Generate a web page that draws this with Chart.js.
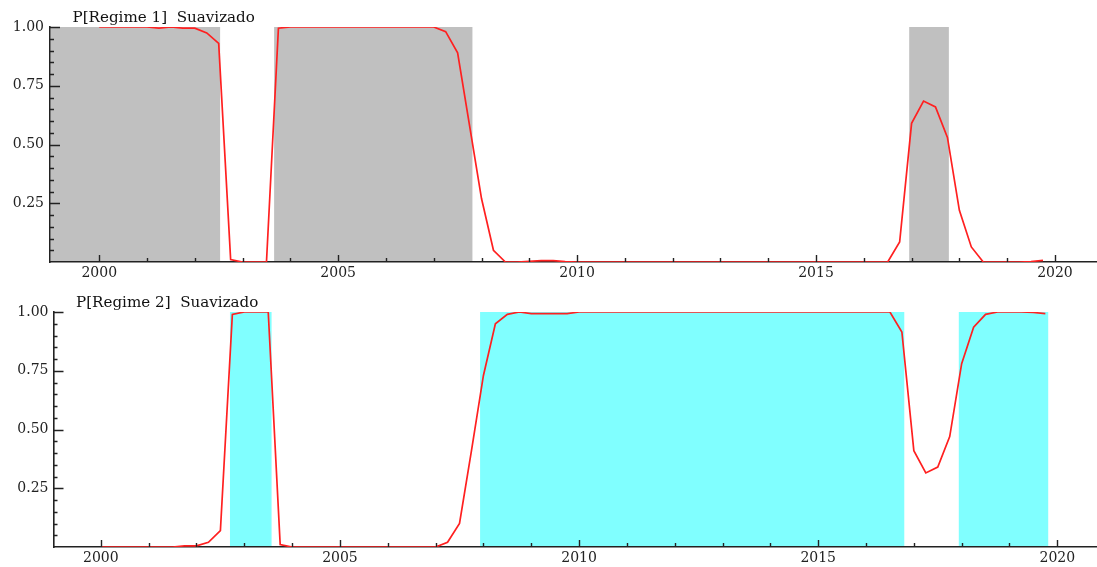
<!DOCTYPE html>
<html>
<head>
<meta charset="utf-8">
<title>Probabilidades suavizadas</title>
<script src="https://cdn.jsdelivr.net/npm/chart.js@4.4.1/dist/chart.umd.min.js"></script>
<style>
  html, body { margin: 0; padding: 0; background: #fff; }
  body { width: 1097px; height: 567px; position: relative; overflow: hidden; }
  .panel { position: absolute; left: 0; width: 1097px; }
  #panelTop { top: 0; height: 290px; }
  #panelBottom { top: 285px; height: 282px; }
</style>
</head>
<body>
<div class="panel" id="panelTop"><canvas id="regime1Chart"></canvas></div>
<div class="panel" id="panelBottom"><canvas id="regime2Chart"></canvas></div>
<script>
// quarterly sample 2000Q1 - 2019Q4
const years = [2000, 2001, 2002, 2003, 2004, 2005, 2006, 2007, 2008, 2009,
               2010, 2011, 2012, 2013, 2014, 2015, 2016, 2017, 2018, 2019];
const quarterOffsets = [0, 0.25, 0.5, 0.75];

// smoothed probabilities, one row per year
const regime1Prob = [
    1, 1, 1, 1,
    1, 0.995, 1, 0.995,
    0.995, 0.975, 0.93, 0.01,
    0, 0, 0, 0.995,
    1, 1, 1, 1,
    1, 1, 1, 1,
    1, 1, 1, 1,
    1, 0.98, 0.89, 0.58,
    0.27, 0.05, 0, 0,
    0.003, 0.006, 0.006, 0.002,
    0, 0, 0, 0,
    0, 0, 0, 0,
    0, 0, 0, 0,
    0, 0, 0, 0,
    0, 0, 0, 0,
    0, 0, 0, 0,
    0, 0, 0, 0.085,
    0.59, 0.685, 0.66, 0.53,
    0.22, 0.064, 0, 0,
    0, 0, 0.002, 0.007
];
const regime2Prob = [
    0, 0, 0, 0,
    0, 0, 0, 0.005,
    0.005, 0.02, 0.07, 0.99,
    1, 1, 1, 0.01,
    0, 0, 0, 0,
    0, 0, 0, 0,
    0, 0, 0, 0,
    0, 0.02, 0.1, 0.41,
    0.73, 0.95, 0.99, 1,
    0.993, 0.993, 0.993, 0.993,
    1, 1, 1, 1,
    1, 1, 1, 1,
    1, 1, 1, 1,
    1, 1, 1, 1,
    1, 1, 1, 1,
    1, 1, 1, 1,
    1, 1, 1, 0.915,
    0.41, 0.315, 0.34, 0.47,
    0.78, 0.935, 0.99, 1,
    1, 1, 0.998, 0.993
];

// periods classified in each regime (start, end)
const regime1Spans = [[1998.9, 2002.53], [2003.66, 2007.81], [2016.95, 2017.78]];
const regime2Spans = [[2002.70, 2003.57], [2007.93, 2016.80], [2017.94, 2019.81]];

const yearLabels = [2000, 2005, 2010, 2015, 2020];
const yearMarks = [2000, 2001, 2002, 2003, 2004, 2005, 2006, 2007, 2008, 2009, 2010,
                   2011, 2012, 2013, 2014, 2015, 2016, 2017, 2018, 2019, 2020];
const probLabels = [0.25, 0.5, 0.75, 1];
const probMarks = [0.05, 0.1, 0.15, 0.2, 0.25, 0.3, 0.35, 0.4, 0.45, 0.5,
                   0.55, 0.6, 0.65, 0.7, 0.75, 0.8, 0.85, 0.9, 0.95, 1];

const quarters = [];
years.forEach(y => quarterOffsets.forEach(q => quarters.push(y + q)));

const axisColor = '#222';
const labelFont = { family: 'DejaVu Serif', size: 14 };

// shaded regime periods behind the line
const shadePlugin = {
    id: 'regimeShade',
    beforeDatasetsDraw(chart, args, opts) {
        const { ctx, chartArea: a, scales: { x } } = chart;
        ctx.save();
        ctx.beginPath();
        ctx.rect(a.left + 1, a.top, a.right - a.left - 1, a.bottom - a.top - 1);
        ctx.clip();
        ctx.fillStyle = opts.color;
        opts.spans.forEach(([s, e]) => {
            const x0 = x.getPixelForValue(s);
            const x1 = x.getPixelForValue(e);
            ctx.fillRect(x0, a.top, x1 - x0, a.bottom - a.top);
        });
        ctx.restore();
    }
};

// tick marks pointing into the plot, long on labelled values
const tickPlugin = {
    id: 'innerTicks',
    afterDatasetsDraw(chart) {
        const { ctx, chartArea: a, scales: { x, y } } = chart;
        ctx.save();
        ctx.strokeStyle = axisColor;
        ctx.lineWidth = 1.4;
        ctx.beginPath();
        yearMarks.forEach(v => {
            const px = Math.round(x.getPixelForValue(v)) + 0.5;
            const len = yearLabels.includes(v) ? 7 : 4;
            ctx.moveTo(px, a.bottom);
            ctx.lineTo(px, a.bottom - len);
        });
        probMarks.forEach(v => {
            const py = Math.round(y.getPixelForValue(v)) + 0.5;
            const len = probLabels.includes(v) ? 10 : 4;
            ctx.moveTo(a.left, py);
            ctx.lineTo(a.left + len, py);
        });
        ctx.stroke();
        ctx.restore();
    }
};

const titlePlugin = {
    id: 'panelTitle',
    afterDraw(chart, args, opts) {
        const { ctx, chartArea: a } = chart;
        ctx.save();
        ctx.fillStyle = '#111';
        ctx.font = '14px "DejaVu Serif"';
        ctx.textBaseline = 'middle';
        ctx.translate(a.left + 22.5, a.top - 9);
        ctx.scale(1.08, 1);
        ctx.fillText(opts.text, 0, 0);
        ctx.restore();
    }
};

function createPanel(config) {
    const ctx = document.getElementById(config.elementId).getContext('2d');
    return new Chart(ctx, {
        type: 'line',
        data: {
            datasets: [{
                label: config.title,
                data: quarters.map((q, i) => ({ x: q, y: config.values[i] })),
                borderColor: '#ff2020',
                borderWidth: 1.7,
                pointRadius: 0,
                tension: 0,
                fill: false
            }]
        },
        options: {
            responsive: true,
            maintainAspectRatio: false,
            animation: false,
            layout: { padding: { top: 27, left: 0, right: 0, bottom: 0 } },
            plugins: {
                legend: { display: false },
                tooltip: { enabled: false },
                regimeShade: { spans: config.spans, color: config.shade },
                panelTitle: { text: config.title }
            },
            scales: {
                x: {
                    type: 'linear',
                    min: config.xMin,
                    max: config.xMax,
                    grid: { display: false, drawTicks: false },
                    border: { display: true, color: axisColor, width: 1.6 },
                    ticks: {
                        color: '#222',
                        font: labelFont,
                        padding: 3,
                        autoSkip: false,
                        maxRotation: 0,
                        callback: v => String(v)
                    },
                    afterBuildTicks: s => { s.ticks = yearLabels.map(v => ({ value: v })); },
                    afterFit: s => { s.height = config.xAxisHeight; }
                },
                y: {
                    min: 0,
                    max: 1,
                    grid: { display: false, drawTicks: false },
                    border: { display: true, color: axisColor, width: 1.6 },
                    ticks: {
                        color: '#222',
                        font: labelFont,
                        padding: config.yPad,
                        callback: v => v.toFixed(2)
                    },
                    afterBuildTicks: s => { s.ticks = probLabels.map(v => ({ value: v })); },
                    afterFit: s => { s.width = config.yAxisWidth; }
                }
            }
        },
        plugins: [shadePlugin, tickPlugin, titlePlugin]
    });
}

createPanel({
    elementId: 'regime1Chart',
    title: 'P[Regime 1]  Suavizado',
    values: regime1Prob,
    spans: regime1Spans,
    shade: '#c0c0c0',
    xMin: 1998.97, xMax: 2020.88,
    yAxisWidth: 50, xAxisHeight: 28, yPad: 6
});

createPanel({
    elementId: 'regime2Chart',
    title: 'P[Regime 2]  Suavizado',
    values: regime2Prob,
    spans: regime2Spans,
    shade: '#80ffff',
    xMin: 1999.01, xMax: 2020.83,
    yAxisWidth: 53.5, xAxisHeight: 20, yPad: 5
});
</script>
</body>
</html>
